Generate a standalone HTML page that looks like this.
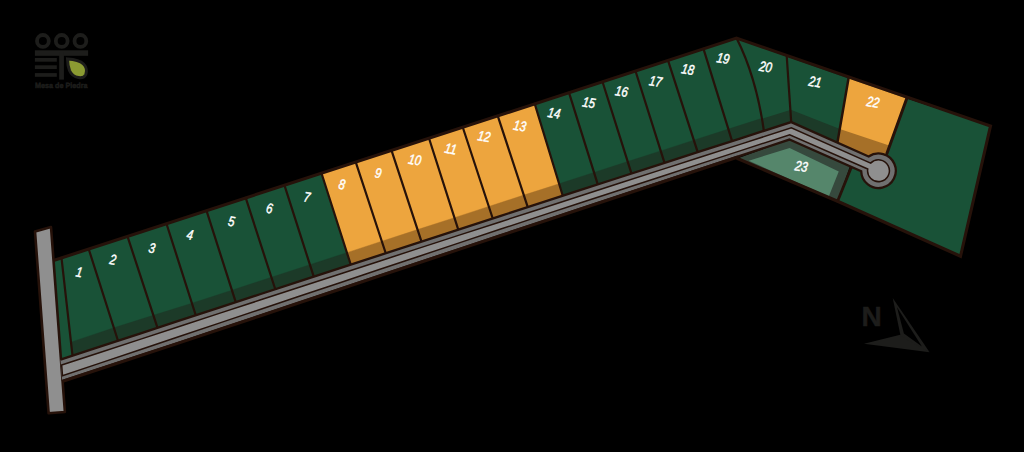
<!DOCTYPE html>
<html><head><meta charset="utf-8"><title>Mapa de lotes</title>
<style>
html,body{margin:0;padding:0;background:#000;}
body{width:1024px;height:452px;overflow:hidden;}
svg{display:block;}
text{font-family:"Liberation Sans",sans-serif;}
.n{font-size:14px;font-style:italic;fill:#fff;stroke:#fff;stroke-width:0.45px;text-rendering:geometricPrecision;}
.N{font-size:28px;font-weight:bold;fill:#1d1d1b;stroke:#1d1d1b;stroke-width:0.5px;}
.lg{font-size:7.6px;font-weight:bold;fill:#1d1d1b;stroke:#1d1d1b;stroke-width:0.5px;text-rendering:geometricPrecision;}
</style></head><body>
<svg width="1024" height="452" viewBox="0 0 1024 452">
<rect width="1024" height="452" fill="#000"/>

<polygon points="53.50,260.50 61.50,257.90 72.50,355.72 60.50,359.67" fill="#195237" stroke="#195237" stroke-width="0.6" stroke-linejoin="round"/>
<polygon points="61.50,257.90 88.70,249.04 118.00,340.78 72.50,355.72" fill="#195237" stroke="#195237" stroke-width="0.6" stroke-linejoin="round"/>
<polygon points="70.97,342.13 113.84,327.75 118.00,340.78 72.50,355.72" fill="#1c3a28" stroke="#1c3a28" stroke-width="0.4" stroke-linejoin="round"/>
<polygon points="88.70,249.04 127.50,236.41 157.50,327.82 118.00,340.78" fill="#195237" stroke="#195237" stroke-width="0.6" stroke-linejoin="round"/>
<polygon points="113.84,327.75 153.39,315.29 157.50,327.82 118.00,340.78" fill="#1c3a28" stroke="#1c3a28" stroke-width="0.4" stroke-linejoin="round"/>
<polygon points="127.50,236.41 166.50,223.71 195.75,315.28 157.50,327.82" fill="#195237" stroke="#195237" stroke-width="0.6" stroke-linejoin="round"/>
<polygon points="153.39,315.29 191.90,303.23 195.75,315.28 157.50,327.82" fill="#1c3a28" stroke="#1c3a28" stroke-width="0.4" stroke-linejoin="round"/>
<polygon points="166.50,223.71 206.50,210.69 235.75,302.19 195.75,315.28" fill="#195237" stroke="#195237" stroke-width="0.6" stroke-linejoin="round"/>
<polygon points="191.90,303.23 231.91,290.19 235.75,302.19 195.75,315.28" fill="#1c3a28" stroke="#1c3a28" stroke-width="0.4" stroke-linejoin="round"/>
<polygon points="206.50,210.69 245.75,197.91 275.25,289.28 235.75,302.19" fill="#195237" stroke="#195237" stroke-width="0.6" stroke-linejoin="round"/>
<polygon points="231.91,290.19 271.38,277.28 275.25,289.28 235.75,302.19" fill="#1c3a28" stroke="#1c3a28" stroke-width="0.4" stroke-linejoin="round"/>
<polygon points="245.75,197.91 284.50,185.29 313.75,276.71 275.25,289.28" fill="#195237" stroke="#195237" stroke-width="0.6" stroke-linejoin="round"/>
<polygon points="271.38,277.28 309.91,264.71 313.75,276.71 275.25,289.28" fill="#1c3a28" stroke="#1c3a28" stroke-width="0.4" stroke-linejoin="round"/>
<polygon points="284.50,185.29 321.50,173.24 350.75,264.65 313.75,276.71" fill="#195237" stroke="#195237" stroke-width="0.6" stroke-linejoin="round"/>
<polygon points="309.91,264.71 346.91,252.65 350.75,264.65 313.75,276.71" fill="#1c3a28" stroke="#1c3a28" stroke-width="0.4" stroke-linejoin="round"/>
<polygon points="321.50,173.24 355.75,162.09 385.75,253.24 350.75,264.65" fill="#eda53e" stroke="#eda53e" stroke-width="0.6" stroke-linejoin="round"/>
<polygon points="346.91,252.65 381.80,241.24 385.75,253.24 350.75,264.65" fill="#a67028" stroke="#a67028" stroke-width="0.4" stroke-linejoin="round"/>
<polygon points="355.75,162.09 391.50,150.45 421.50,241.61 385.75,253.24" fill="#eda53e" stroke="#eda53e" stroke-width="0.6" stroke-linejoin="round"/>
<polygon points="381.80,241.24 417.55,229.61 421.50,241.61 385.75,253.24" fill="#a67028" stroke="#a67028" stroke-width="0.4" stroke-linejoin="round"/>
<polygon points="391.50,150.45 429.00,138.24 458.25,229.67 421.50,241.61" fill="#eda53e" stroke="#eda53e" stroke-width="0.6" stroke-linejoin="round"/>
<polygon points="417.55,229.61 454.41,217.67 458.25,229.67 421.50,241.61" fill="#a67028" stroke="#a67028" stroke-width="0.4" stroke-linejoin="round"/>
<polygon points="429.00,138.24 462.75,127.25 492.75,218.47 458.25,229.67" fill="#eda53e" stroke="#eda53e" stroke-width="0.6" stroke-linejoin="round"/>
<polygon points="454.41,217.67 488.80,206.47 492.75,218.47 458.25,229.67" fill="#a67028" stroke="#a67028" stroke-width="0.4" stroke-linejoin="round"/>
<polygon points="462.75,127.25 497.75,115.86 527.75,207.12 492.75,218.47" fill="#eda53e" stroke="#eda53e" stroke-width="0.6" stroke-linejoin="round"/>
<polygon points="488.80,206.47 523.81,195.12 527.75,207.12 492.75,218.47" fill="#a67028" stroke="#a67028" stroke-width="0.4" stroke-linejoin="round"/>
<polygon points="497.75,115.86 534.75,103.81 562.75,195.78 527.75,207.12" fill="#eda53e" stroke="#eda53e" stroke-width="0.6" stroke-linejoin="round"/>
<polygon points="523.81,195.12 559.10,183.78 562.75,195.78 527.75,207.12" fill="#a67028" stroke="#a67028" stroke-width="0.4" stroke-linejoin="round"/>
<polygon points="534.75,103.81 569.00,92.66 597.75,184.45 562.75,195.78" fill="#195237" stroke="#195237" stroke-width="0.6" stroke-linejoin="round"/>
<polygon points="559.10,183.78 593.99,172.45 597.75,184.45 562.75,195.78" fill="#1c3a28" stroke="#1c3a28" stroke-width="0.4" stroke-linejoin="round"/>
<polygon points="569.00,92.66 602.50,81.75 631.50,173.55 597.75,184.45" fill="#195237" stroke="#195237" stroke-width="0.6" stroke-linejoin="round"/>
<polygon points="593.99,172.45 627.71,161.55 631.50,173.55 597.75,184.45" fill="#1c3a28" stroke="#1c3a28" stroke-width="0.4" stroke-linejoin="round"/>
<polygon points="602.50,81.75 635.50,71.01 664.50,162.89 631.50,173.55" fill="#195237" stroke="#195237" stroke-width="0.6" stroke-linejoin="round"/>
<polygon points="627.71,161.55 660.71,150.89 664.50,162.89 631.50,173.55" fill="#1c3a28" stroke="#1c3a28" stroke-width="0.4" stroke-linejoin="round"/>
<polygon points="635.50,71.01 668.00,60.42 697.70,152.18 664.50,162.89" fill="#195237" stroke="#195237" stroke-width="0.6" stroke-linejoin="round"/>
<polygon points="660.71,150.89 693.82,140.18 697.70,152.18 664.50,162.89" fill="#1c3a28" stroke="#1c3a28" stroke-width="0.4" stroke-linejoin="round"/>
<polygon points="668.00,60.42 703.50,48.86 732.10,141.10 697.70,152.18" fill="#195237" stroke="#195237" stroke-width="0.6" stroke-linejoin="round"/>
<polygon points="693.82,140.18 728.38,129.10 732.10,141.10 697.70,152.18" fill="#1c3a28" stroke="#1c3a28" stroke-width="0.4" stroke-linejoin="round"/>
<polygon points="703.50,48.86 736.50,38.12 740.28,45.96 743.84,54.11 747.16,62.59 750.24,71.38 753.10,80.50 755.72,89.93 758.12,99.68 760.28,109.76 762.20,120.15 763.90,130.86 732.10,141.10" fill="#195237" stroke="#195237" stroke-width="0.6" stroke-linejoin="round"/>
<polygon points="728.38,129.10 760.35,118.86 763.90,130.86 732.10,141.10" fill="#1c3a28" stroke="#1c3a28" stroke-width="0.4" stroke-linejoin="round"/>
<polygon points="736.50,38.12 786.75,56.50 791.20,122.08 763.90,130.86 762.20,120.15 760.28,109.76 758.12,99.68 755.72,89.93 753.10,80.50 750.24,71.38 747.16,62.59 743.84,54.11 740.28,45.96" fill="#195237" stroke="#195237" stroke-width="0.6" stroke-linejoin="round"/>
<polygon points="761.17,118.94 790.20,110.00 791.20,122.08 763.90,130.86" fill="#1c3a28"/>
<polygon points="786.75,56.50 848.50,78.50 837.40,142.64 791.20,122.08" fill="#195237" stroke="#195237" stroke-width="0.6" stroke-linejoin="round"/>
<polygon points="790.20,109.40 840.60,129.20 837.40,142.64 791.20,122.08" fill="#1c3a28"/>
<polygon points="906.75,98.50 990.50,126.00 960.50,256.25 837.60,201.25 851.00,168.00 879.00,171.00 886.90,153.50" fill="#195237"/>
<polygon points="848.50,78.50 906.75,98.50 886.90,153.50 870.00,157.00 837.40,142.64" fill="#eda53e" stroke="#eda53e" stroke-width="0.6" stroke-linejoin="round"/>
<polygon points="840.60,129.20 890.70,146.00 886.90,153.50 870.00,157.00 837.40,142.64" fill="#a67028"/>
<polygon points="737.50,158.50 789.50,139.40 850.00,166.00 837.60,201.25" fill="#36493d"/>
<polygon points="748.75,160.70 789.60,148.00 838.75,171.50 828.75,196.50" fill="#55866b"/>
<line x1="61.50" y1="257.90" x2="72.50" y2="355.72" stroke="#26120a" stroke-width="2.2" stroke-linecap="round"/>
<line x1="88.70" y1="249.04" x2="118.00" y2="340.78" stroke="#26120a" stroke-width="2.2" stroke-linecap="round"/>
<line x1="127.50" y1="236.41" x2="157.50" y2="327.82" stroke="#26120a" stroke-width="2.2" stroke-linecap="round"/>
<line x1="166.50" y1="223.71" x2="195.75" y2="315.28" stroke="#26120a" stroke-width="2.2" stroke-linecap="round"/>
<line x1="206.50" y1="210.69" x2="235.75" y2="302.19" stroke="#26120a" stroke-width="2.2" stroke-linecap="round"/>
<line x1="245.75" y1="197.91" x2="275.25" y2="289.28" stroke="#26120a" stroke-width="2.2" stroke-linecap="round"/>
<line x1="284.50" y1="185.29" x2="313.75" y2="276.71" stroke="#26120a" stroke-width="2.2" stroke-linecap="round"/>
<line x1="321.50" y1="173.24" x2="350.75" y2="264.65" stroke="#26120a" stroke-width="2.2" stroke-linecap="round"/>
<line x1="355.75" y1="162.09" x2="385.75" y2="253.24" stroke="#26120a" stroke-width="2.2" stroke-linecap="round"/>
<line x1="391.50" y1="150.45" x2="421.50" y2="241.61" stroke="#26120a" stroke-width="2.2" stroke-linecap="round"/>
<line x1="429.00" y1="138.24" x2="458.25" y2="229.67" stroke="#26120a" stroke-width="2.2" stroke-linecap="round"/>
<line x1="462.75" y1="127.25" x2="492.75" y2="218.47" stroke="#26120a" stroke-width="2.2" stroke-linecap="round"/>
<line x1="497.75" y1="115.86" x2="527.75" y2="207.12" stroke="#26120a" stroke-width="2.2" stroke-linecap="round"/>
<line x1="534.75" y1="103.81" x2="562.75" y2="195.78" stroke="#26120a" stroke-width="2.2" stroke-linecap="round"/>
<line x1="569.00" y1="92.66" x2="597.75" y2="184.45" stroke="#26120a" stroke-width="2.2" stroke-linecap="round"/>
<line x1="602.50" y1="81.75" x2="631.50" y2="173.55" stroke="#26120a" stroke-width="2.2" stroke-linecap="round"/>
<line x1="635.50" y1="71.01" x2="664.50" y2="162.89" stroke="#26120a" stroke-width="2.2" stroke-linecap="round"/>
<line x1="668.00" y1="60.42" x2="697.70" y2="152.18" stroke="#26120a" stroke-width="2.2" stroke-linecap="round"/>
<line x1="703.50" y1="48.86" x2="732.10" y2="141.10" stroke="#26120a" stroke-width="2.2" stroke-linecap="round"/>
<path d="M736.50,38.12 Q756.0,76.5 763.90,130.86" fill="none" stroke="#26120a" stroke-width="2.2" stroke-linecap="round"/>
<line x1="786.75" y1="56.50" x2="791.20" y2="122.08" stroke="#26120a" stroke-width="2.2" stroke-linecap="round"/>
<line x1="848.50" y1="78.50" x2="837.40" y2="142.64" stroke="#26120a" stroke-width="2.5" stroke-linecap="round"/>
<line x1="906.75" y1="98.50" x2="886.90" y2="153.50" stroke="#26120a" stroke-width="3.0" stroke-linecap="round"/>
<line x1="851.00" y1="168.00" x2="837.60" y2="201.25" stroke="#26120a" stroke-width="2.8" stroke-linecap="round"/>
<polyline points="53.50,260.50 736.50,38.12 990.50,126.00 960.50,256.25 837.60,201.25 737.50,158.50" fill="none" stroke="#26120a" stroke-width="3.1" stroke-linejoin="miter" stroke-linecap="round"/>
<polygon points="35.00,231.50 51.00,227.00 64.90,412.00 48.60,413.20" fill="#8f8f8f" stroke="#26120a" stroke-width="2.6" stroke-linejoin="round"/>
<path d="M60.47,359.68 L100.00,346.69 L140.00,333.56 L180.00,320.44 L220.00,307.35 L260.00,294.26 L300.00,281.20 L340.00,268.15 L380.00,255.12 L420.00,242.10 L460.00,229.10 L500.00,216.12 L540.00,203.15 L580.00,190.20 L620.00,177.26 L660.00,164.34 L700.00,151.44 L740.00,138.55 L791.20,122.08 L868.59,156.52 A17.3 17.3 0 1 1 861.21,171.16 L789.40,139.57 L740.00,155.87 L700.00,169.09 L660.00,182.32 L620.00,195.57 L580.00,208.83 L540.00,222.12 L500.00,235.41 L460.00,248.73 L420.00,262.06 L380.00,275.41 L340.00,288.77 L300.00,302.15 L260.00,315.54 L220.00,328.96 L180.00,342.24 L140.00,355.40 L100.00,368.58 L62.08,381.08 Z" fill="#707070"/>
<path d="M60.47,359.68 L100.00,346.69 L140.00,333.56 L180.00,320.44 L220.00,307.35 L260.00,294.26 L300.00,281.20 L340.00,268.15 L380.00,255.12 L420.00,242.10 L460.00,229.10 L500.00,216.12 L540.00,203.15 L580.00,190.20 L620.00,177.26 L660.00,164.34 L700.00,151.44 L740.00,138.55 L791.20,122.08 L868.59,156.52 A17.3 17.3 0 1 1 861.21,171.16 L789.40,139.57 L740.00,155.87 L700.00,169.09 L660.00,182.32 L620.00,195.57 L580.00,208.83 L540.00,222.12 L500.00,235.41 L460.00,248.73 L420.00,262.06 L380.00,275.41 L340.00,288.77 L300.00,302.15 L260.00,315.54 L220.00,328.96 L180.00,342.24 L140.00,355.40 L100.00,368.58 L62.08,381.08" fill="none" stroke="#26120a" stroke-width="2.3" stroke-linejoin="miter"/>
<path d="M738.00,156.98 L700.00,169.54 L660.00,182.77 L620.00,196.02 L580.00,209.28 L540.00,222.57 L500.00,235.86 L460.00,249.18 L420.00,262.51 L380.00,275.86 L340.00,289.22 L300.00,302.60 L260.00,315.99 L220.00,329.41 L180.00,342.69 L140.00,355.85 L100.00,369.03 L62.08,381.53" fill="none" stroke="#26120a" stroke-width="3.0" stroke-linejoin="round"/>
<path d="M61.67,365.08 L100.00,352.49 L140.00,339.36 L180.00,326.24 L220.00,313.15 L260.00,300.06 L300.00,287.00 L340.00,273.95 L380.00,260.92 L420.00,247.90 L460.00,234.90 L500.00,221.92 L540.00,208.95 L580.00,196.00 L620.00,183.06 L660.00,170.14 L700.00,157.24 L740.00,144.35 L791.33,127.84 L870.65,163.14 A10.9 10.9 0 1 1 867.73,169.03 L789.72,134.71 L740.00,150.87 L700.00,163.89 L660.00,176.92 L620.00,189.97 L580.00,203.03 L540.00,216.12 L500.00,229.31 L460.00,242.63 L420.00,255.96 L380.00,269.31 L340.00,282.67 L300.00,296.05 L260.00,309.44 L220.00,322.86 L180.00,336.27 L140.00,349.69 L100.00,363.12 L62.48,375.73 Z" fill="#8f8f8f" stroke="#26120a" stroke-width="1.5" stroke-linejoin="miter"/>
<text class="n" transform="translate(79.20 272.10) rotate(10) scale(0.82 1)" x="0" y="4.8" text-anchor="middle">1</text>
<text class="n" transform="translate(113.00 259.50) rotate(10) scale(0.82 1)" x="0" y="4.8" text-anchor="middle">2</text>
<text class="n" transform="translate(152.00 248.00) rotate(10) scale(0.82 1)" x="0" y="4.8" text-anchor="middle">3</text>
<text class="n" transform="translate(190.00 234.75) rotate(10) scale(0.82 1)" x="0" y="4.8" text-anchor="middle">4</text>
<text class="n" transform="translate(231.50 221.25) rotate(10) scale(0.82 1)" x="0" y="4.8" text-anchor="middle">5</text>
<text class="n" transform="translate(269.50 208.25) rotate(10) scale(0.82 1)" x="0" y="4.8" text-anchor="middle">6</text>
<text class="n" transform="translate(307.00 197.00) rotate(10) scale(0.82 1)" x="0" y="4.8" text-anchor="middle">7</text>
<text class="n" transform="translate(342.00 184.25) rotate(10) scale(0.82 1)" x="0" y="4.8" text-anchor="middle">8</text>
<text class="n" transform="translate(378.25 173.00) rotate(10) scale(0.82 1)" x="0" y="4.8" text-anchor="middle">9</text>
<text class="n" transform="translate(414.90 159.80) rotate(10) scale(0.82 1)" x="0" y="4.8" text-anchor="middle">10</text>
<text class="n" transform="translate(450.75 148.75) rotate(10) scale(0.82 1)" x="0" y="4.8" text-anchor="middle">11</text>
<text class="n" transform="translate(484.00 136.25) rotate(10) scale(0.82 1)" x="0" y="4.8" text-anchor="middle">12</text>
<text class="n" transform="translate(519.75 125.75) rotate(10) scale(0.82 1)" x="0" y="4.8" text-anchor="middle">13</text>
<text class="n" transform="translate(554.00 113.00) rotate(10) scale(0.82 1)" x="0" y="4.8" text-anchor="middle">14</text>
<text class="n" transform="translate(588.80 102.50) rotate(10) scale(0.82 1)" x="0" y="4.8" text-anchor="middle">15</text>
<text class="n" transform="translate(621.70 91.25) rotate(10) scale(0.82 1)" x="0" y="4.8" text-anchor="middle">16</text>
<text class="n" transform="translate(655.50 81.25) rotate(10) scale(0.82 1)" x="0" y="4.8" text-anchor="middle">17</text>
<text class="n" transform="translate(687.75 69.25) rotate(10) scale(0.82 1)" x="0" y="4.8" text-anchor="middle">18</text>
<text class="n" transform="translate(723.00 58.25) rotate(10) scale(0.82 1)" x="0" y="4.8" text-anchor="middle">19</text>
<text class="n" transform="translate(765.50 66.75) rotate(10) scale(0.82 1)" x="0" y="4.8" text-anchor="middle">20</text>
<text class="n" transform="translate(815.20 81.75) rotate(10) scale(0.82 1)" x="0" y="4.8" text-anchor="middle">21</text>
<text class="n" transform="translate(873.00 102.00) rotate(10) scale(0.82 1)" x="0" y="4.8" text-anchor="middle">22</text>
<text class="n" transform="translate(801.25 166.25) rotate(10) scale(0.82 1)" x="0" y="4.8" text-anchor="middle">23</text>
<polygon points="864.0,343.7 903.3,334.0 929.6,352.3" fill="#1d1d1b"/>
<polygon points="892.7,298.1 900.6,336.0 929.6,352.3" fill="#1d1d1b"/>
<polygon points="897.0,307.2 903.9,333.5 921.9,346.4" fill="#000"/>
<text x="861.4" y="325.5" class="N">N</text>
<circle cx="42.9" cy="40.9" r="5.9" fill="none" stroke="#1d1d1b" stroke-width="3.8"/>
<circle cx="61.7" cy="40.9" r="5.9" fill="none" stroke="#1d1d1b" stroke-width="3.8"/>
<circle cx="80.4" cy="40.9" r="5.9" fill="none" stroke="#1d1d1b" stroke-width="3.8"/>
<rect x="34.9" y="50.3" width="53.2" height="5.5" fill="#1d1d1b"/>
<rect x="34.9" y="58.0" width="21.9" height="3.7" fill="#1d1d1b"/>
<rect x="34.9" y="65.3" width="21.9" height="3.7" fill="#1d1d1b"/>
<rect x="34.9" y="73.1" width="21.9" height="3.7" fill="#1d1d1b"/>
<rect x="59.2" y="52" width="4.7" height="27.6" fill="#1d1d1b"/>
<path d="M67.5,58.9 C73,59.2 80,60.5 83.5,64 C86.5,67 87,71.5 85.8,74.5 C84.5,77.5 81,78 78.5,77.6 C74.5,77 71,74 69.5,70.5 C68.2,67 67.6,62.5 67.5,58.9 Z" fill="#8b9b32" stroke="#1d1d1b" stroke-width="3.0" stroke-linejoin="miter"/>
<text class="lg" x="35.1" y="87.7" textLength="52.4" lengthAdjust="spacingAndGlyphs">Mesa de Piedra</text>
</svg>
</body></html>
